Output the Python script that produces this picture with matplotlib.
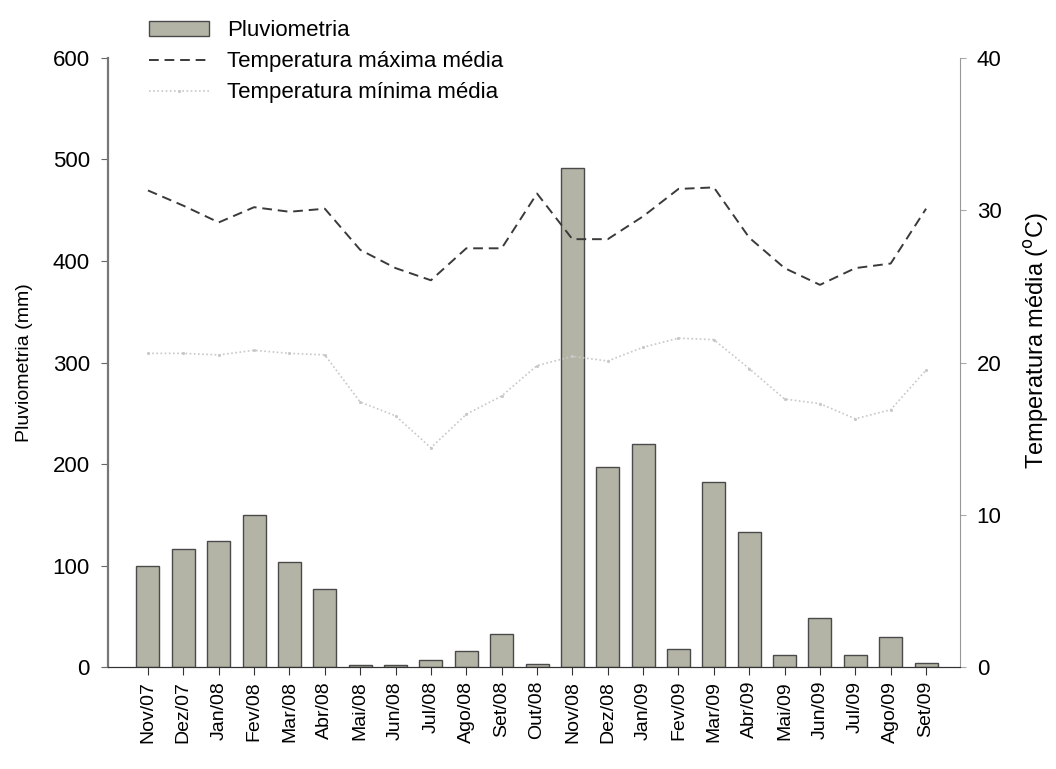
import matplotlib

matplotlib.use("Agg")
import matplotlib.pyplot as plt
import numpy as np

plt.rcParams["font.family"] = ["Liberation Sans", "DejaVu Sans"]

months = ["Nov/07", "Dez/07", "Jan/08", "Fev/08", "Mar/08", "Abr/08", "Mai/08",
          "Jun/08", "Jul/08", "Ago/08", "Set/08", "Out/08", "Nov/08", "Dez/08",
          "Jan/09", "Fev/09", "Mar/09", "Abr/09", "Mai/09", "Jun/09", "Jul/09",
          "Ago/09", "Set/09"]
rain = [100, 116, 124, 150, 103, 77, 2, 2, 7, 16, 33, 3, 492, 197,
        220, 18, 182, 133, 12, 48, 12, 30, 4]
tmax = [31.3, 30.3, 29.2, 30.2, 29.9, 30.1, 27.4, 26.2, 25.4, 27.5, 27.5, 31.1,
        28.1, 28.1, 29.6, 31.4, 31.5, 28.2, 26.2, 25.1, 26.2, 26.5, 30.1]
tmin = [20.6, 20.6, 20.5, 20.8, 20.6, 20.5, 17.4, 16.5, 14.4, 16.6, 17.8, 19.8,
        20.4, 20.1, 21.0, 21.6, 21.5, 19.6, 17.6, 17.3, 16.3, 16.9, 19.5]

x = np.arange(len(months))

fig = plt.figure(figsize=(10.56, 7.69), dpi=100)
ax = fig.add_axes([0.1023, 0.1326, 0.8068, 0.792])
ax2 = ax.twinx()

bars = ax.bar(x, rain, width=0.65, color="#b4b4a6", edgecolor="#4a4a4a",
              linewidth=1.0, label="Pluviometria", zorder=2)
l1, = ax2.plot(x, tmax, ls=(0, (5, 3)), color="#3a3a3a", lw=1.4,
               label="Temperatura máxima média")
l2, = ax2.plot(x, tmin, ls=(0, (1, 1.5)), color="#c8c8c8", lw=1.2,
               marker=".", markersize=2.5, label="Temperatura mínima média")

ax.set_xlim(-1.13, 22.96)
ax.set_ylim(0, 600)
ax2.set_ylim(0, 40)
ax.set_yticks(range(0, 601, 100))
ax2.set_yticks(range(0, 41, 10))
ax.set_xticks(x)
ax.set_xticklabels(months, rotation=90, fontsize=14)
ax.tick_params(axis="y", labelsize=16, length=5, color="#666666", pad=8)
ax2.tick_params(axis="y", labelsize=16, length=4, color="#aaaaaa", pad=8)
ax.tick_params(axis="x", length=6, color="#333333", pad=4)

for a in (ax, ax2):
    a.spines["top"].set_visible(False)
ax.spines["left"].set_color("#777777")
ax.spines["left"].set_linewidth(1.6)
ax2.spines["left"].set_visible(False)
ax2.spines["right"].set_color("#999999")
ax2.spines["bottom"].set_color("#333333")
ax.spines["bottom"].set_color("#333333")
ax.spines["right"].set_visible(False)

ax.set_ylabel("Pluviometria (mm)", fontsize=14)
ax.yaxis.set_label_coords(-0.088, 0.5)
ax2.set_ylabel(r"Temperatura média ($^{\rm o}$C)", fontsize=17)
ax2.yaxis.set_label_coords(1.073, 0.537)

fig.legend(handles=[bars, l1, l2], loc="upper left",
           bbox_to_anchor=(0.133, 0.985), frameon=False, fontsize=16,
           handlelength=2.7, handletextpad=0.8, labelspacing=0.45,
           borderaxespad=0)

fig.savefig("out.png", dpi=100)
